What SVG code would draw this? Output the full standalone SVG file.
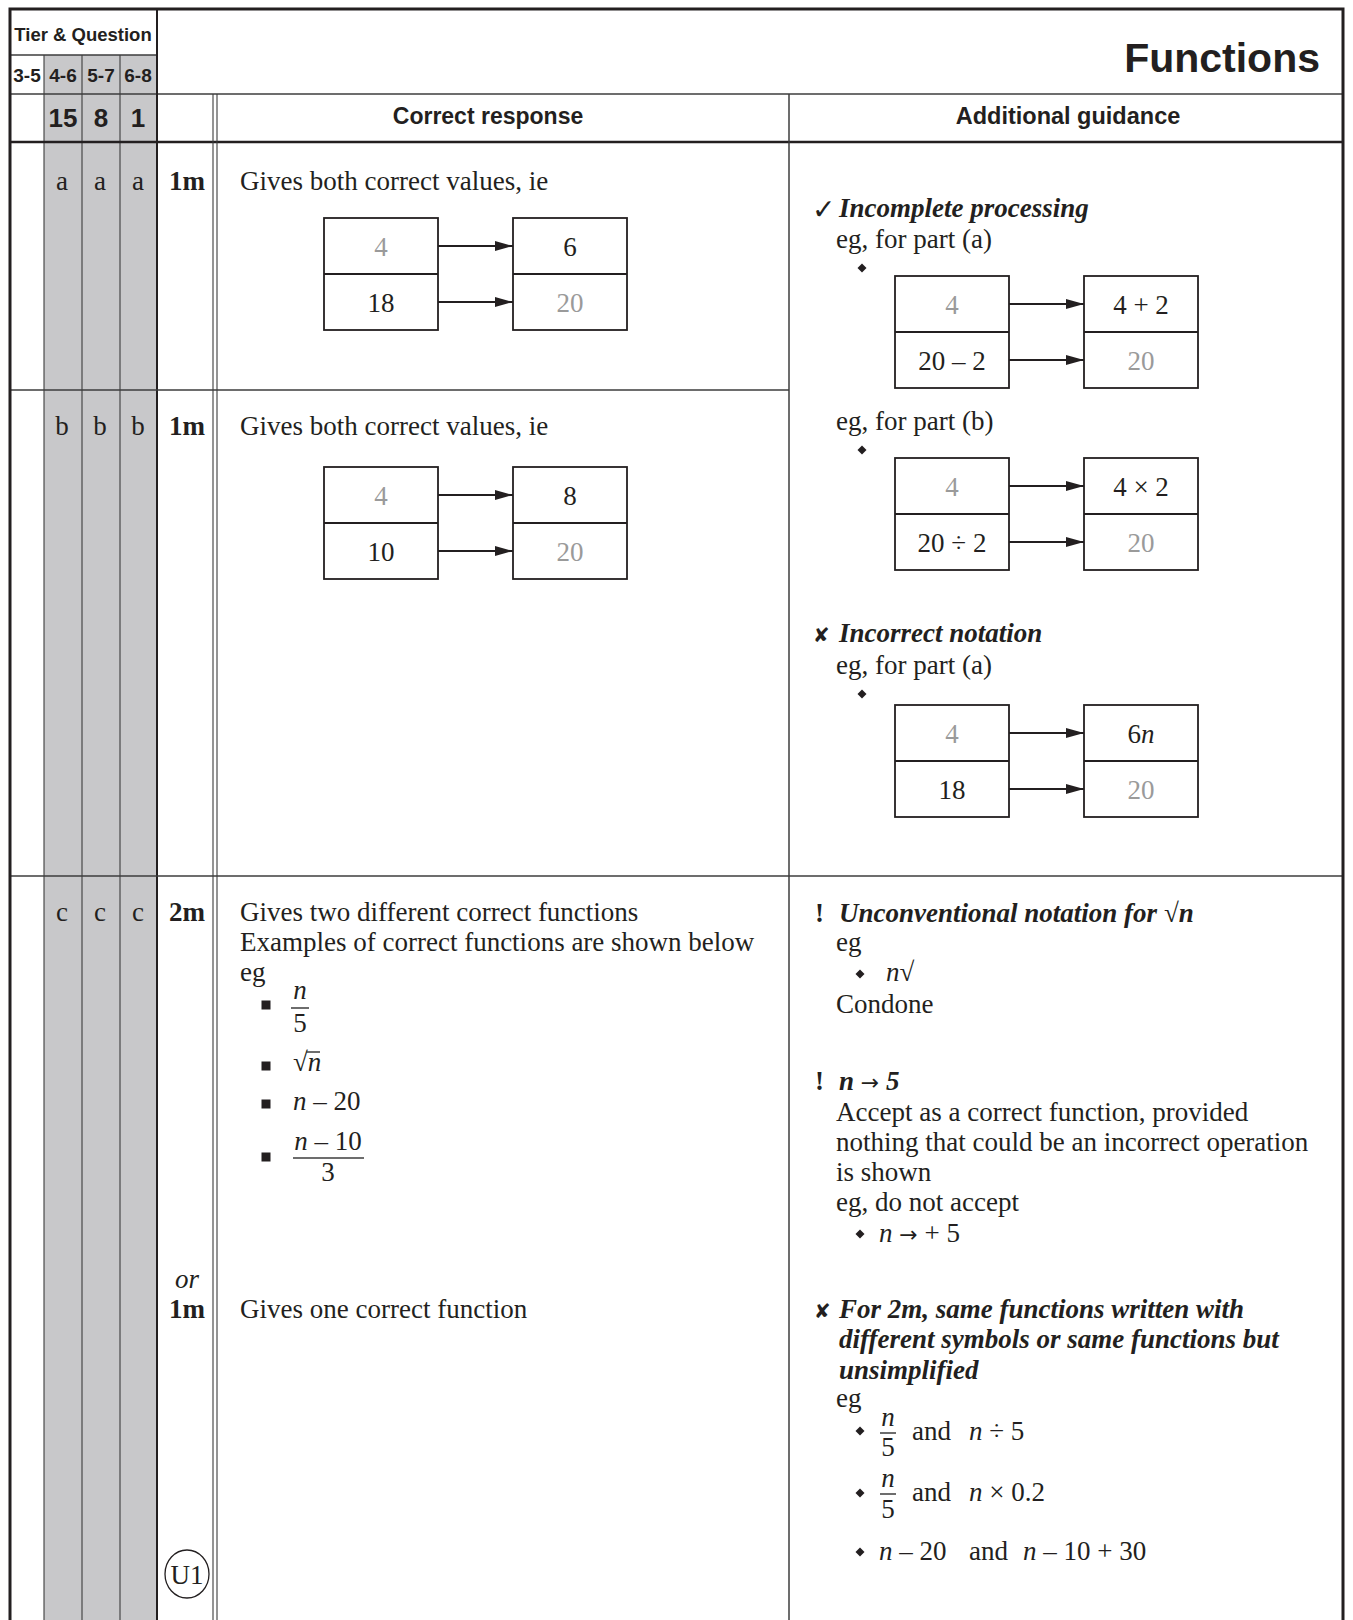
<svg xmlns="http://www.w3.org/2000/svg" width="1353" height="1620" viewBox="0 0 1353 1620">
<defs>
<style>
.ser{font-family:'Liberation Serif','DejaVu Serif',serif;font-size:27px;fill:#231f20}
.it{font-style:italic}
.bi{font-style:italic;font-weight:bold}
.b{font-weight:bold}
.sans{font-family:'Liberation Sans','DejaVu Sans',sans-serif;font-weight:bold;fill:#231f20}
.gr{fill:#9a9a9a}
.mid{text-anchor:middle}
.ln{stroke:#3c3c3c;stroke-width:1.5;fill:none}
.thin{stroke:#3c3c3c;stroke-width:1.1;fill:none}
.bd{stroke:#231f20;stroke-width:3;fill:none}
.box{fill:#fff;stroke:#231f20;stroke-width:1.8}
.arr{stroke:#231f20;stroke-width:1.8;fill:none;marker-end:url(#ah)}
.sym{font-family:'DejaVu Sans',sans-serif;fill:#231f20}
.ar{font-family:'DejaVu Sans',sans-serif;font-style:normal;font-weight:normal;font-size:22px}
</style>
<marker id="ah" markerUnits="userSpaceOnUse" markerWidth="18" markerHeight="10" refX="18" refY="5" orient="auto"><path d="M0,0 L18,5 L0,10 z" fill="#231f20"/></marker>
<path id="dia" d="M0,-4.5 L4.5,0 L0,4.5 L-4.5,0 z" fill="#231f20"/>
<rect id="sq" x="-4.5" y="-4.5" width="9" height="9" fill="#231f20"/>
</defs>
<rect x="0" y="0" width="1353" height="1620" fill="#fff"/>

<g id="grid">
<rect x="44" y="55" width="113" height="1565" fill="#c8c8ca"/>
<line class="thin" x1="44" y1="55" x2="44" y2="1620"/>
<line class="thin" x1="82" y1="55" x2="82" y2="1620"/>
<line class="thin" x1="120" y1="55" x2="120" y2="1620"/>
<line class="ln" x1="10" y1="55" x2="157" y2="55"/>
<line class="ln" x1="10" y1="94" x2="1343" y2="94"/>
<line stroke="#231f20" stroke-width="2.5" x1="10" y1="142" x2="1343" y2="142"/>
<line stroke="#231f20" stroke-width="2" x1="157" y1="9" x2="157" y2="1620"/>
<line class="thin" x1="213" y1="94" x2="213" y2="1620"/>
<line class="thin" x1="217" y1="94" x2="217" y2="1620"/>
<line class="ln" x1="789" y1="94" x2="789" y2="1620"/>
<line class="ln" x1="10" y1="390" x2="789" y2="390"/>
<line class="ln" x1="10" y1="876" x2="1343" y2="876"/>
<path class="bd" d="M10,1620 V9 H1343 V1620"/>
</g>

<g id="header">
<text class="sans mid" x="83" y="41" font-size="18.5">Tier &amp; Question</text>
<text class="sans mid" x="27" y="82" font-size="19">3-5</text>
<text class="sans mid" x="63" y="82" font-size="19">4-6</text>
<text class="sans mid" x="101" y="82" font-size="19">5-7</text>
<text class="sans mid" x="138" y="82" font-size="19">6-8</text>
<text class="sans mid" x="63" y="127" font-size="26">15</text>
<text class="sans mid" x="101" y="127" font-size="26">8</text>
<text class="sans mid" x="138" y="127" font-size="26">1</text>
<text class="sans" x="1320" y="72" font-size="41" text-anchor="end">Functions</text>
<text class="sans mid" x="488" y="124" font-size="23">Correct response</text>
<text class="sans mid" x="1068" y="124" font-size="23.5">Additional guidance</text>
</g>

<g id="row-a">
<text class="ser mid" x="62" y="190">a</text>
<text class="ser mid" x="100" y="190">a</text>
<text class="ser mid" x="138" y="190">a</text>
<text class="ser mid b" x="187" y="190">1m</text>
<text class="ser" x="240" y="190">Gives both correct values, ie</text>
</g>
<g id="box-a">
<rect class="box" x="324" y="218" width="114" height="112"/>
<line class="arr" style="marker-end:none" x1="324" y1="274" x2="438" y2="274"/>
<rect class="box" x="513" y="218" width="114" height="112"/>
<line class="arr" style="marker-end:none" x1="513" y1="274" x2="627" y2="274"/>
<text class="ser mid gr" x="381" y="256">4</text>
<text class="ser mid" x="570" y="256">6</text>
<text class="ser mid" x="381" y="312">18</text>
<text class="ser mid gr" x="570" y="312">20</text>
</g>

<g id="row-b">
<text class="ser mid" x="62" y="435">b</text>
<text class="ser mid" x="100" y="435">b</text>
<text class="ser mid" x="138" y="435">b</text>
<text class="ser mid b" x="187" y="435">1m</text>
<text class="ser" x="240" y="435">Gives both correct values, ie</text>
</g>
<g id="box-b">
<rect class="box" x="324" y="467" width="114" height="112"/>
<line class="arr" style="marker-end:none" x1="324" y1="523" x2="438" y2="523"/>
<rect class="box" x="513" y="467" width="114" height="112"/>
<line class="arr" style="marker-end:none" x1="513" y1="523" x2="627" y2="523"/>
<text class="ser mid gr" x="381" y="505">4</text>
<text class="ser mid" x="570" y="505">8</text>
<text class="ser mid" x="381" y="561">10</text>
<text class="ser mid gr" x="570" y="561">20</text>
</g>

<g id="guide-ab">
<text class="sym" x="812" y="219" font-size="28">✓</text>
<text class="ser bi" x="839" y="217">Incomplete processing</text>
<text class="ser" x="836" y="248">eg, for part (a)</text>
<use href="#dia" x="862" y="268"/>
<text class="ser" x="836" y="430">eg, for part (b)</text>
<use href="#dia" x="862" y="450"/>
<text class="sym" x="813" y="642" font-size="20">✘</text>
<text class="ser bi" x="839" y="642">Incorrect notation</text>
<text class="ser" x="836" y="674">eg, for part (a)</text>
<use href="#dia" x="862" y="694"/>
</g>
<g id="gbox-1">
<rect class="box" x="895" y="276" width="114" height="112"/>
<line class="arr" style="marker-end:none" x1="895" y1="332" x2="1009" y2="332"/>
<rect class="box" x="1084" y="276" width="114" height="112"/>
<line class="arr" style="marker-end:none" x1="1084" y1="332" x2="1198" y2="332"/>
<text class="ser mid gr" x="952" y="314">4</text>
<text class="ser mid" x="1141" y="314">4 + 2</text>
<text class="ser mid" x="952" y="370">20 – 2</text>
<text class="ser mid gr" x="1141" y="370">20</text>
</g>
<g id="gbox-2">
<rect class="box" x="895" y="458" width="114" height="112"/>
<line class="arr" style="marker-end:none" x1="895" y1="514" x2="1009" y2="514"/>
<rect class="box" x="1084" y="458" width="114" height="112"/>
<line class="arr" style="marker-end:none" x1="1084" y1="514" x2="1198" y2="514"/>
<text class="ser mid gr" x="952" y="496">4</text>
<text class="ser mid" x="1141" y="496">4 × 2</text>
<text class="ser mid" x="952" y="552">20 ÷ 2</text>
<text class="ser mid gr" x="1141" y="552">20</text>
</g>
<g id="gbox-3">
<rect class="box" x="895" y="705" width="114" height="112"/>
<line class="arr" style="marker-end:none" x1="895" y1="761" x2="1009" y2="761"/>
<rect class="box" x="1084" y="705" width="114" height="112"/>
<line class="arr" style="marker-end:none" x1="1084" y1="761" x2="1198" y2="761"/>
<text class="ser mid gr" x="952" y="743">4</text>
<text class="ser mid" x="1141" y="743">6<tspan class="it">n</tspan></text>
<text class="ser mid" x="952" y="799">18</text>
<text class="ser mid gr" x="1141" y="799">20</text>
</g>

<g id="connectors">
<line class="arr" x1="438" y1="246" x2="513" y2="246"/>
<line class="arr" x1="438" y1="302" x2="513" y2="302"/>
<line class="arr" x1="438" y1="495" x2="513" y2="495"/>
<line class="arr" x1="438" y1="551" x2="513" y2="551"/>
<line class="arr" x1="1009" y1="304" x2="1084" y2="304"/>
<line class="arr" x1="1009" y1="360" x2="1084" y2="360"/>
<line class="arr" x1="1009" y1="486" x2="1084" y2="486"/>
<line class="arr" x1="1009" y1="542" x2="1084" y2="542"/>
<line class="arr" x1="1009" y1="733" x2="1084" y2="733"/>
<line class="arr" x1="1009" y1="789" x2="1084" y2="789"/>
</g>

<g id="row-c">
<text class="ser mid" x="62" y="921">c</text>
<text class="ser mid" x="100" y="921">c</text>
<text class="ser mid" x="138" y="921">c</text>
<text class="ser mid b" x="187" y="921">2m</text>
<text class="ser" x="240" y="921">Gives two different correct functions</text>
<text class="ser" x="240" y="951">Examples of correct functions are shown below</text>
<text class="ser" x="240" y="981">eg</text>
<use href="#sq" x="266" y="1005"/>
<text class="ser mid it" x="300" y="999">n</text>
<line class="ln" x1="291" y1="1008" x2="309" y2="1008"/>
<text class="ser mid" x="300" y="1032">5</text>
<use href="#sq" x="266" y="1066"/>
<text class="ser" x="293" y="1071">√<tspan class="it">n</tspan></text>
<line class="ln" x1="306" y1="1052" x2="320" y2="1052"/>
<use href="#sq" x="266" y="1104"/>
<text class="ser" x="293" y="1110"><tspan class="it">n</tspan> – 20</text>
<use href="#sq" x="266" y="1157"/>
<text class="ser mid" x="328" y="1150"><tspan class="it">n</tspan> – 10</text>
<line class="ln" x1="293" y1="1158" x2="364" y2="1158"/>
<text class="ser mid" x="328" y="1181">3</text>
<text class="ser mid it" x="187" y="1288">or</text>
<text class="ser mid b" x="187" y="1318">1m</text>
<text class="ser" x="240" y="1318">Gives one correct function</text>
<ellipse cx="187" cy="1574" rx="22" ry="24" fill="none" stroke="#231f20" stroke-width="1.3"/>
<text class="ser mid" x="187" y="1584">U1</text>
</g>

<g id="guide-c">
<text class="ser b" x="815" y="922">!</text>
<text class="ser bi" x="839" y="922">Unconventional notation for √<tspan>n</tspan></text>
<text class="ser" x="836" y="951">eg</text>
<use href="#dia" x="860" y="974"/>
<text class="ser" x="886" y="981"><tspan class="it">n</tspan>√</text>
<text class="ser" x="836" y="1013">Condone</text>
<text class="ser b" x="815" y="1090">!</text>
<text class="ser bi" x="839" y="1090">n <tspan class="ar" font-weight="bold">→</tspan> 5</text>
<text class="ser" x="836" y="1121">Accept as a correct function, provided</text>
<text class="ser" x="836" y="1151">nothing that could be an incorrect operation</text>
<text class="ser" x="836" y="1181">is shown</text>
<text class="ser" x="836" y="1211">eg, do not accept</text>
<use href="#dia" x="860" y="1234"/>
<text class="ser" x="879" y="1242"><tspan class="it">n</tspan> <tspan class="ar">→</tspan> + 5</text>
<text class="sym" x="814" y="1318" font-size="20">✘</text>
<text class="ser bi" x="839" y="1318">For 2m, same functions written with</text>
<text class="ser bi" x="839" y="1348">different symbols or same functions but</text>
<text class="ser bi" x="839" y="1379">unsimplified</text>
<text class="ser" x="836" y="1407">eg</text>
<use href="#dia" x="860" y="1431"/>
<text class="ser mid it" x="888" y="1426">n</text>
<line class="ln" x1="880" y1="1433" x2="896" y2="1433"/>
<text class="ser mid" x="888" y="1456">5</text>
<text class="ser" x="912" y="1440">and</text>
<text class="ser" x="969" y="1440"><tspan class="it">n</tspan> ÷ 5</text>
<use href="#dia" x="860" y="1493"/>
<text class="ser mid it" x="888" y="1487">n</text>
<line class="ln" x1="880" y1="1494" x2="896" y2="1494"/>
<text class="ser mid" x="888" y="1518">5</text>
<text class="ser" x="912" y="1501">and</text>
<text class="ser" x="969" y="1501"><tspan class="it">n</tspan> × 0.2</text>
<use href="#dia" x="860" y="1552"/>
<text class="ser" x="879" y="1560"><tspan class="it">n</tspan> – 20</text>
<text class="ser" x="969" y="1560">and</text>
<text class="ser" x="1023" y="1560"><tspan class="it">n</tspan> – 10 + 30</text>
</g>
</svg>
